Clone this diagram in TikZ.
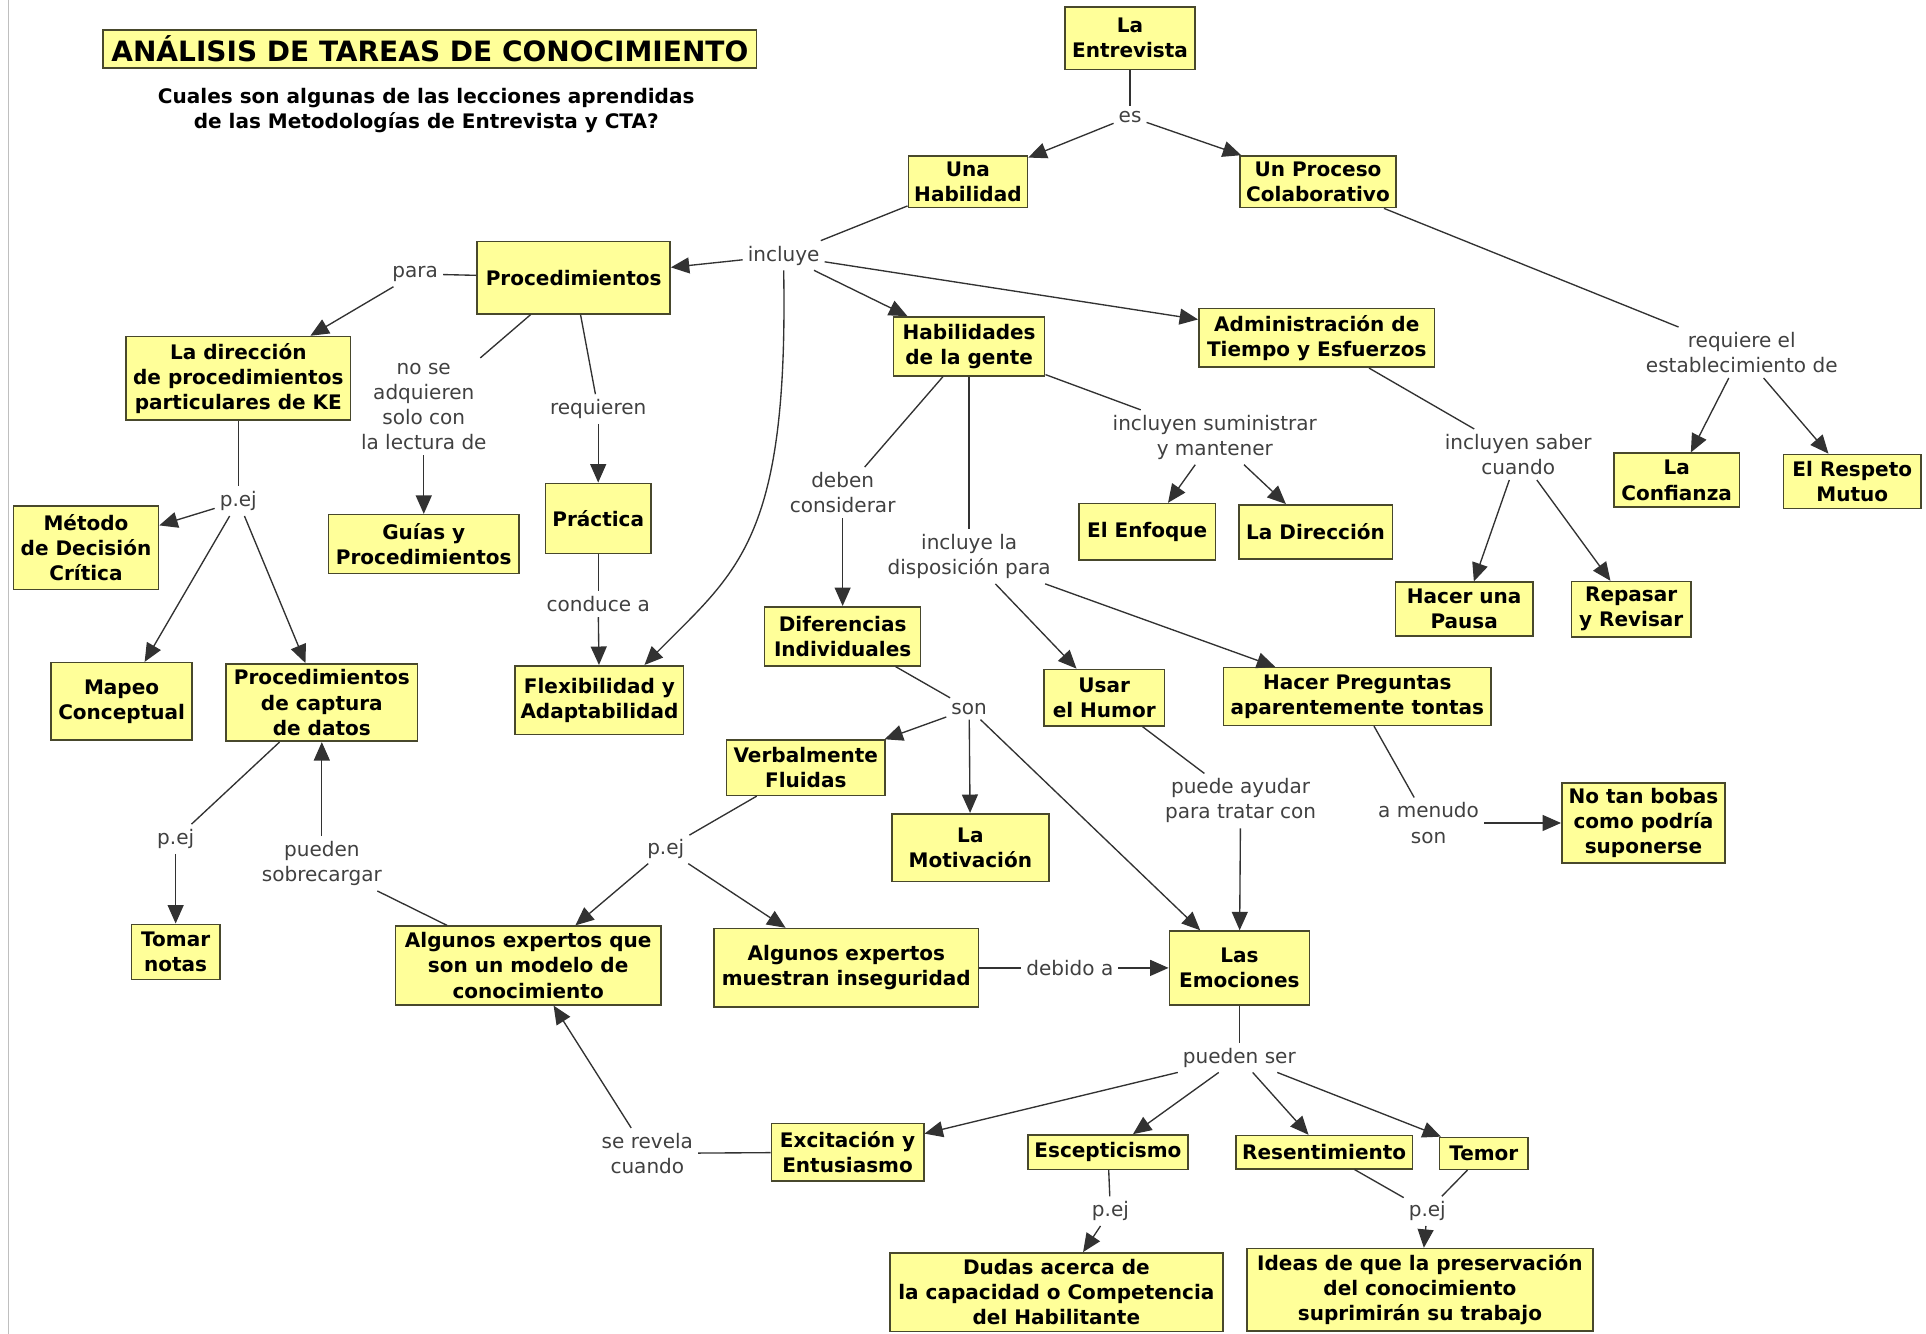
\documentclass[tikz,border=0pt]{standalone}
\usepackage{fontspec}
\setmainfont{DejaVu Sans}
\usepackage{tikz}
\usetikzlibrary{arrows.meta}
\definecolor{CmapBoxFill}{RGB}{255,255,153}
\definecolor{CmapBoxLine}{RGB}{72,72,44}
\definecolor{CmapLinkText}{RGB}{64,64,64}
\definecolor{CmapLine}{RGB}{50,50,50}

\begin{document}
\begin{tikzpicture}[x=1pt,y=-1pt,
cpt/.style 2 args={draw=CmapBoxLine,fill=CmapBoxFill,line width=1.3pt,minimum width=#1,minimum height=#2,inner xsep=4pt,inner ysep=2pt,align=center,font=\fontsize{16.3}{20.5}\selectfont\bfseries},
lnk/.style={text=CmapLinkText,align=center,inner sep=4pt,font=\fontsize{16.3}{20.5}\selectfont},
con/.style={draw=CmapLine,line width=1.1pt},
arr/.style={con,-{Triangle[length=15pt,width=13pt]}}]
\useasboundingbox (0,0) rectangle (1568,1086);
\draw[black!25,line width=1pt] (7,0) -- (7,1086);
\node[cpt={532}{31},font=\fontsize{22.8}{26}\selectfont\bfseries](titulo) at(350,40) {ANÁLISIS DE TAREAS DE CONOCIMIENTO};
\node[font=\fontsize{16.3}{20.5}\selectfont\bfseries,align=center](pregunta) at(347,90) {Cuales son algunas de las lecciones aprendidas\\de las Metodologías de Entrevista y CTA?};
   \node[cpt={106}{51}](entrevista) at(920,31) {La\\Entrevista};
   \node[cpt={97}{42}](habilidad) at(788,148) {Una\\Habilidad};
   \node[cpt={127}{42}](proceso) at(1073,148) {Un Proceso\\Colaborativo};
   \node[cpt={157}{59}](procedim) at(467,226) {Procedimientos};
   \node[cpt={183}{68}](direccionke) at(194,308) {La dirección\\de procedimientos\\particulares de KE};
   \node[cpt={155}{48}](guias) at(345,443) {Guías y\\Procedimientos};
   \node[cpt={86}{57}](practica) at(487,422) {Práctica};
   \node[cpt={118}{68}](metodo) at(70,446) {Método\\de Decisión\\Crítica};
   \node[cpt={115}{63}](mapeo) at(99,571) {Mapeo\\Conceptual};
   \node[cpt={156}{63}](captura) at(262,572) {Procedimientos\\de captura\\de datos};
   \node[cpt={137}{56}](flexib) at(488,570) {Flexibilidad y\\Adaptabilidad};
   \node[cpt={123}{48}](gente) at(789,282) {Habilidades\\de la gente};
   \node[cpt={192}{48}](admin) at(1072,275) {Administración de\\Tiempo y Esfuerzos};
   \node[cpt={111}{46}](enfoque) at(934,433) {El Enfoque};
   \node[cpt={125}{44}](direccion) at(1071,433) {La Dirección};
   \node[cpt={112}{44}](pausa) at(1192,496) {Hacer una\\Pausa};
   \node[cpt={97}{45}](repasar) at(1328,496) {Repasar\\y Revisar};
   \node[cpt={102}{44}](confianza) at(1365,391) {La\\Confianza};
   \node[cpt={112}{44}](respeto) at(1508,392) {El Respeto\\Mutuo};
   \node[cpt={127}{48}](diferencias) at(686,518) {Diferencias\\Individuales};
   \node[cpt={98}{46}](humor) at(899,568) {Usar\\el Humor};
   \node[cpt={218}{47}](preguntas) at(1105,567) {Hacer Preguntas\\aparentemente tontas};
   \node[cpt={129}{45}](verbal) at(656,625) {Verbalmente\\Fluidas};
   \node[cpt={128}{55}](motivacion) at(790,690) {La\\Motivación};
   \node[cpt={133}{65}](nobobas) at(1338,670) {No tan bobas\\como podría\\suponerse};
   \node[cpt={72}{45}](tomar) at(143,775) {Tomar\\notas};
   \node[cpt={216}{64}](modelo) at(430,786) {Algunos expertos que\\son un modelo de\\conocimiento};
   \node[cpt={215}{64}](insegur) at(689,788) {Algunos expertos\\muestran inseguridad};
   \node[cpt={114}{60}](emociones) at(1009,788) {Las\\Emociones};
   \node[cpt={124}{47}](excitacion) at(690,938) {Excitación y\\Entusiasmo};
   \node[cpt={130}{28}](escept) at(902,938) {Escepticismo};
   \node[cpt={144}{27}](resent) at(1078,938) {Resentimiento};
   \node[cpt={72}{26}](temor) at(1208,939) {Temor};
   \node[cpt={271}{64}](dudas) at(860,1052) {Dudas acerca de\\la capacidad o Competencia\\del Habilitante};
   \node[cpt={282}{67}](ideas) at(1156,1050) {Ideas de que la preservación\\del conocimiento\\suprimirán su trabajo};
   \node[lnk](es) at(920,95) {es};
   \node[lnk](incluye) at(638,208) {incluye};
   \node[lnk](para) at(338,223) {para};
   \node[lnk](nose) at(345,331) {no se\\adquieren\\solo con\\la lectura de};
   \node[lnk](requieren) at(487,333) {requieren};
   \node[lnk](conduce) at(487,492) {conduce a};
   \node[lnk](pej1) at(194,408) {p.ej};
   \node[lnk](deben) at(686,401) {deben\\considerar};
   \node[lnk](dispos) at(789,453) {incluye la\\disposición para};
   \node[lnk](suministrar) at(989,356) {incluyen suministrar\\y mantener};
   \node[lnk](saber) at(1236,370) {incluyen saber\\cuando};
   \node[lnk](requiere) at(1418,287) {requiere el\\establecimiento de};
   \node[lnk](son) at(789,577) {son};
   \node[lnk](ayudar) at(1010,652) {puede ayudar\\para tratar con};
   \node[lnk](menudo) at(1163,670) {a menudo\\son};
   \node[lnk](pej2) at(143,683) {p.ej};
   \node[lnk](sobrecargar) at(262,703) {pueden\\sobrecargar};
   \node[lnk](pej3) at(542,691) {p.ej};
   \node[lnk](debido) at(871,788) {debido a};
   \node[lnk](puedenser) at(1009,861) {pueden ser};
   \node[lnk](revela) at(527,939) {se revela\\cuando};
   \node[lnk](pej4) at(904,986) {p.ej};
   \node[lnk](pej5) at(1162,986) {p.ej};
\foreach \a/\b in {entrevista/es,habilidad/incluye,procedim/para,procedim/nose,procedim/requieren,practica/conduce,direccionke/pej1,captura/pej2,modelo/sobrecargar,gente/deben,gente/dispos,gente/suministrar,admin/saber,proceso/requiere,diferencias/son,verbal/pej3,insegur/debido,humor/ayudar,preguntas/menudo,emociones/puedenser,excitacion/revela,escept/pej4,resent/pej5,temor/pej5} {
   \draw[con] (\a) -- (\b);
}
\foreach \a/\b in {es/habilidad,es/proceso,incluye/procedim,incluye/gente,incluye/admin,para/direccionke,nose/guias,requieren/practica,conduce/flexib,pej1/metodo,pej1/mapeo,pej1/captura,pej2/tomar,sobrecargar/captura,deben/diferencias,dispos/humor,dispos/preguntas,suministrar/enfoque,suministrar/direccion,saber/pausa,saber/repasar,requiere/confianza,requiere/respeto,son/verbal,son/motivacion,son/emociones,pej3/modelo,pej3/insegur,debido/emociones,ayudar/emociones,menudo/nobobas,puedenser/excitacion,puedenser/escept,puedenser/resent,puedenser/temor,revela/modelo,pej4/dudas,pej5/ideas} {
   \draw[arr] (\a) -- (\b);
}
\draw[arr] (incluye.south) .. controls (642,440) and (600,465) .. (flexib.38);
\end{tikzpicture}
\end{document}
